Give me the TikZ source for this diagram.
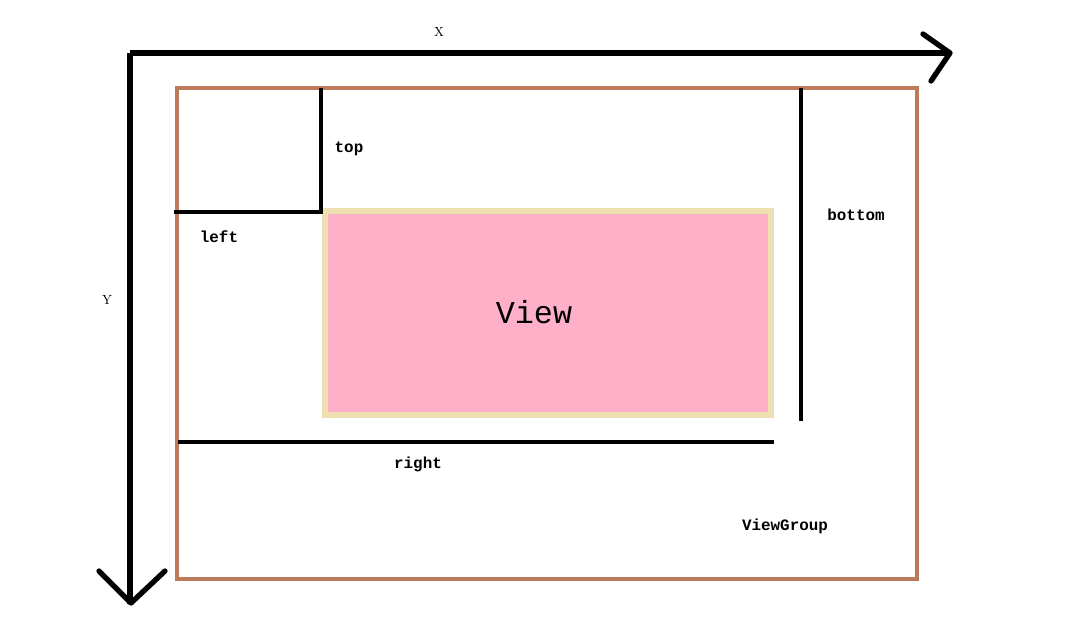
\documentclass[tikz,border=0pt]{standalone}
\usepackage{fontspec}
\setmonofont{Liberation Mono}
\usepackage{tikz}
\usetikzlibrary{calc}

\definecolor{groupbrown}{HTML}{BC7C5A}
\definecolor{viewpink}{HTML}{FEB0C9}
\definecolor{viewedge}{HTML}{EEE0B0}

\begin{document}
\begin{tikzpicture}[x=0.0265cm,y=-0.0265cm]
\useasboundingbox (0,0) rectangle (1072,621);
\tikzset{
  axis/.style={line width=4pt},
  margin/.style={line width=3.6pt},
  lbl/.style={font=\ttfamily\bfseries\fontsize{12}{14}\selectfont, inner sep=0pt},
  axlbl/.style={font=\fontsize{10}{12}\selectfont, inner sep=0pt}
}
% the ViewGroup
\draw[groupbrown, line width=3.6pt] (177,88) rectangle (917,579);
% the View
\draw[viewedge, line width=4.5pt, fill=viewpink] (325,211) rectangle (771,415);
\node[font=\ttfamily\fontsize{24}{28}\selectfont] (view) at (534,312) {View};
% axes
\draw[axis]
(130,53) --++ (820,0)
(130,53) --++ (0,551);
\draw[axis, line cap=round, line join=round]
(923,34) -- (950,53) -- (931,81)
(99,571) -- (131,603) -- (165,571);
\node[axlbl] (xlbl) at (439,32) {X};
\node[axlbl] (ylbl) at (107,300) {Y};
% margins
\draw[margin, line join=miter]
(321,88) -- (321,212) -- (174,212);
\draw[margin]
(801,88) --++ (0,333)
(178,442) --++ (596,0);
\node[lbl] (top) at (349,149) {top};
\node[lbl] (left) at (219,237) {left};
\node[lbl] (bottom) at (856,215) {bottom};
\node[lbl] (right) at (418,464) {right};
\node[lbl] (group) at (785,526) {ViewGroup};
\end{tikzpicture}
\end{document}
